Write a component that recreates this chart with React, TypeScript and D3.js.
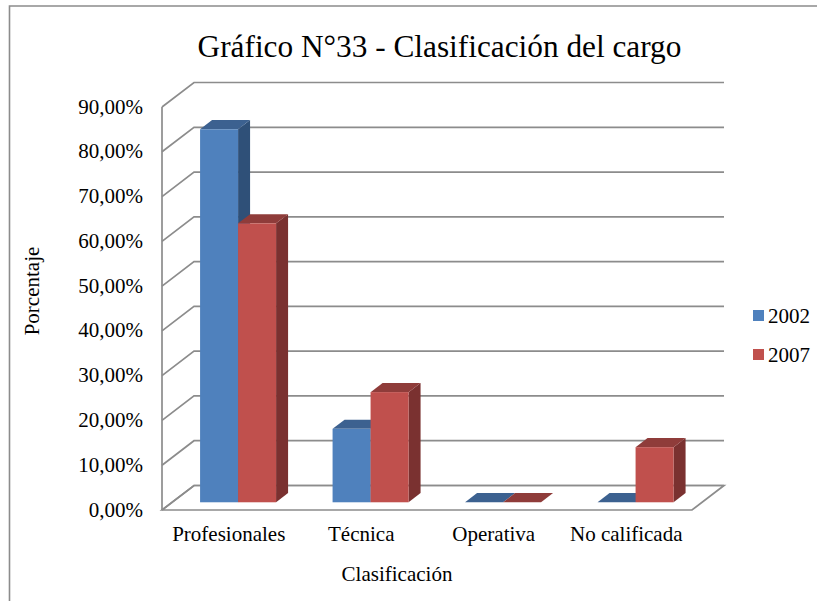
import React from 'react'
import * as d3 from 'd3'

const categories = ['Profesionales', 'Técnica', 'Operativa', 'No calificada']
const years = ['2002', '2007']
const values2002 = [83.3, 16.4, 0, 0]
const values2007 = [62.3, 24.6, 0, 12.3]
const ticks = [0, 10, 20, 30, 40, 50, 60, 70, 80, 90]

const FONT = '"Liberation Serif", "Times New Roman", serif'
const GRID = '#8c8c8c'

// colours per series: front, top, side
const palette = [
  {front: '#4f81bd', top: '#3c6190', side: '#2f5078'},
  {front: '#c0504d', top: '#8f3c3a', side: '#7a3130'}
]

// oblique depth of the floor, and where the bars sit inside it
const depthX = 32
const depthY = -24.5
const barNear = 0.315
const barFar = 0.69

const x = d3.scaleBand().domain(categories).range([162, 692])
const series = d3.scaleBand().domain(years).range([0, 76])
const y = d3.scaleLinear().domain([0, 90]).range([510, 107])
const fmt = (d: number) => d.toFixed(2).replace('.', ',') + '%'

const poly = (pts: [number, number][]) => d3.line()(pts) + 'Z'

function Bar({cat, year, value, i}: {cat: string; year: string; value: number; i: number}) {
  const x0 = (x(cat) as number) + 28 + (series(year) as number) + depthX * barNear
  const x1 = x0 + series.bandwidth()
  const base = y(0) + depthY * barNear
  const top = y(value) + depthY * barNear
  const dx = depthX * (barFar - barNear)
  const dy = depthY * (barFar - barNear)
  const c = palette[i]
  return (
    <g>
      <path d={poly([[x1, base], [x1 + dx, base + dy], [x1 + dx, top + dy], [x1, top]])} fill={c.side} />
      <path d={poly([[x0, top], [x0 + dx, top + dy], [x1 + dx, top + dy], [x1, top]])} fill={c.top} />
      <rect x={x0} y={top} width={x1 - x0} height={base - top} fill={c.front} />
    </g>
  )
}

export default function App() {
  const right = x.range()[1]
  const left = x.range()[0]
  return (
    <svg
      width={826}
      height={601}
      style={{position: 'absolute', left: 0, top: 0, background: '#fff'}}
      fontFamily={FONT}
      fill="#000"
    >
      <path d="M9.5,601V6H817" fill="none" stroke={GRID} strokeWidth={1.6} />
      <text x={439.5} y={57} fontSize={31.3} textAnchor="middle">
        Gráfico N°33 - Clasificación del cargo
      </text>

      {/* walls and gridlines */}
      <g fill="none" stroke={GRID} strokeWidth={1.7}>
        <path d={`M${left},${y(0)}V${y(90)}`} />
        <path d={poly([[left, y(0)], [right, y(0)], [right + depthX, y(0) + depthY], [left + depthX, y(0) + depthY]])} />
        {ticks.map(t => (
          <path
            key={t}
            d={d3.line()([[left, y(t)], [left + depthX, y(t) + depthY], [right + depthX, y(t) + depthY]]) as string}
          />
        ))}
      </g>

      {/* 2002 goes first so that the 2007 bar hides its side face */}
      {categories.map((c, j) => (
        <g key={c}>
          <Bar cat={c} year={years[0]} value={values2002[j]} i={0} />
          <Bar cat={c} year={years[1]} value={values2007[j]} i={1} />
        </g>
      ))}

      <g fontSize={21} textAnchor="end">
        {ticks.map(t => (
          <text key={t} x={143} y={y(t) + 6.5}>
            {fmt(t)}
          </text>
        ))}
      </g>
      <g fontSize={21} textAnchor="middle">
        {categories.map(c => (
          <text key={c} x={(x(c) as number) + x.bandwidth() / 2 + 0.5} y={541}>
            {c}
          </text>
        ))}
      </g>
      <text x={397} y={581} fontSize={21} textAnchor="middle">
        Clasificación
      </text>
      <text transform="translate(39,291) rotate(-90)" fontSize={21} textAnchor="middle">
        Porcentaje
      </text>

      {years.map((yr, i) => (
        <g key={yr} transform={`translate(753,${310 + i * 39})`}>
          <rect width={11} height={11} fill={palette[i].front} />
          <text x={15} y={12.5} fontSize={21}>
            {yr}
          </text>
        </g>
      ))}
    </svg>
  )
}
